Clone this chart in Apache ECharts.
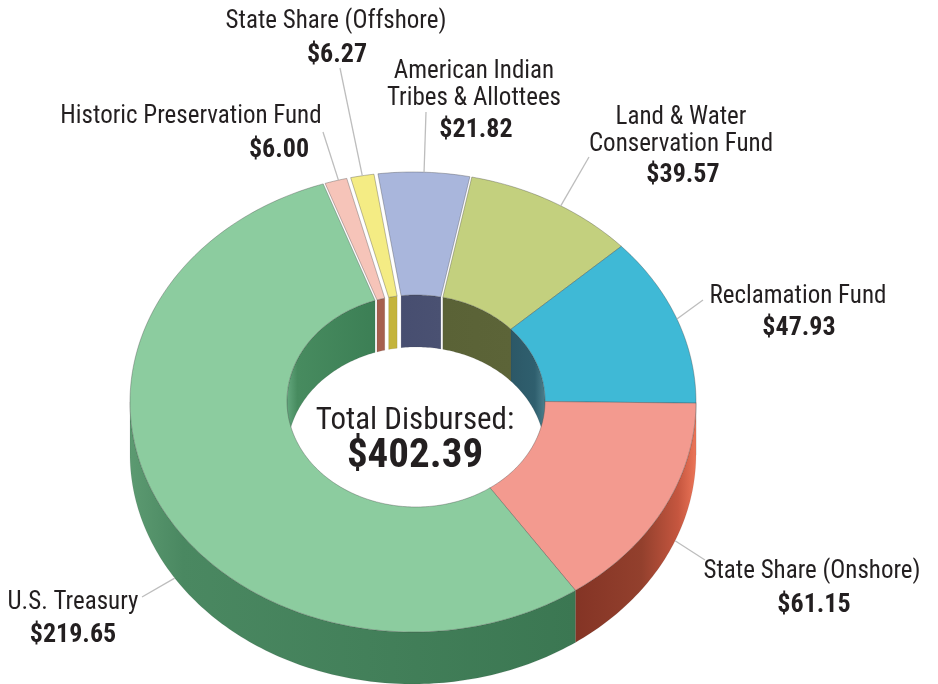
<!DOCTYPE html>
<html><head><meta charset="utf-8">
<script src="https://cdn.jsdelivr.net/npm/echarts@6/dist/echarts.min.js"></script>
<style>html,body{margin:0;padding:0;background:#fff}#c{width:938px;height:684px}</style>
</head><body><div id="c"></div>
<script>
// ---- data ----
const categories = ["Historic Preservation Fund", "State Share (Offshore)", "American Indian\nTribes & Allottees", "Land & Water\nConservation Fund", "Reclamation Fund", "State Share (Onshore)", "U.S. Treasury"];
const values = [6.00, 6.27, 21.82, 39.57, 47.93, 61.15, 219.65];
const centerTitle = "Total Disbursed:";

// ---- styles ----
const topColors = ['#f6c4b9', '#f4ec84', '#a9b6dc', '#c3d07e', '#3fb9d6', '#f39a8f', '#8ccc9f'];
const innerWallStops = [
  [[0, '#a65f4e'], [1, '#a65f4e']],
  [[0, '#c4b43c'], [1, '#c4b43c']],
  [[0, '#474e70'], [1, '#4a5172']],
  [[0, '#5a6236'], [1, '#5c6438']],
  [[0, '#2c5867'], [0.7, '#2f5f6e'], [1, '#4d808d']],
  [[0, '#8a3a2a'], [1, '#8a3a2a']],
  [[0, '#64a87e'], [0.12, '#478b5f'], [1, '#3c7f55']]
];
const outerWallStops = [
  [[0, '#a65f4e'], [1, '#a65f4e']],
  [[0, '#c4b43c'], [1, '#c4b43c']],
  [[0, '#474e70'], [1, '#474e70']],
  [[0, '#5a6236'], [1, '#5a6236']],
  [[0, '#2c5867'], [1, '#2c5867']],
  [[0, '#843425'], [0.55, '#93402d'], [0.85, '#c5563f'], [1, '#ec7558']],
  [[0, '#5c9a71'], [0.12, '#4a8861'], [1, '#3b7752']]
];
const gaps = [2, 2, 2, 0, 0, 0, 0];
const leaderFrac = [0.6, 0.5, 0.5, 0.55, 0.5, 0.4, 0.47];
// label layout: [nameX, nameY, valueX, valueY, lineEndX, lineEndY]
const labelLayout = [
  [191, 117, 279, 150, 323, 132],
  [336, 22, 337, 55, 340, 68],
  [474, 72, 476, 130, 426, 112],
  [681, 118, 683, 175, 589, 157],
  [798, 297, 799, 328, 703, 300],
  [812, 572, 814, 605, 705, 560],
  [73, 603, 73, 635, 142, 597]
];
const GEO = {cx: 413, cy: 402, a: 283, b: 230, icx: 416, icy: 401, ai: 129, bi: 106, d: 52, start: 108.5};
const FONT = "'Liberation Sans Narrow', 'Roboto Condensed', Roboto, sans-serif";
const nameFont = "25px " + FONT;
const valueFont = "bold 26px " + FONT;
const textColor = '#231f20';

// ---- geometry from data ----
const total = values.reduce((s, v) => s + v, 0);
const sliceAngles = [];
(function () {
  let acc = GEO.start;
  values.forEach(v => { const span = v / total * 360; sliceAngles.push([acc, acc - span]); acc -= span; });
})();

function ptRaw(theta, ring, dy) {
  const t = theta * Math.PI / 180;
  if (ring === 'o') return [GEO.cx + GEO.a * Math.cos(t), GEO.cy - GEO.b * Math.sin(t) + (dy || 0)];
  return [GEO.icx + GEO.ai * Math.cos(t), GEO.icy - GEO.bi * Math.sin(t) + (dy || 0)];
}
function arc(api, t1, t2, ring, dy) {
  const n = Math.max(2, Math.ceil(Math.abs(t2 - t1) / 1));
  const pts = [];
  for (let k = 0; k <= n; k++) pts.push(api.coord(ptRaw(t1 + (t2 - t1) * k / n, ring, dy)));
  return pts;
}
function padDeg(i, ring) {
  const r = ring === 'o' ? GEO.a : GEO.ai;
  return gaps[i] / r * 180 / Math.PI;
}
function grad(stops) {
  return new echarts.graphic.LinearGradient(0, 0, 1, 0, stops.map(s => ({offset: s[0], color: s[1]})));
}

function renderWalls(params, api) {
  const i = params.dataIndex;
  const children = [];
  const [s0, e0] = sliceAngles[i];
  let s = s0 - padDeg(i, 'o'), e = e0 + padDeg(i, 'o');
  for (const [lo, hi] of [[-180, 0], [-540, -360], [180, 360]]) {
    const a1 = Math.max(e, lo), a2 = Math.min(s, hi);
    if (a2 > a1) {
      const pts = arc(api, a2, a1, 'o', 0).concat(arc(api, a1, a2, 'o', GEO.d));
      children.push({type: 'polygon', shape: {points: pts}, style: {fill: grad(outerWallStops[i]), stroke: 'rgba(40,40,40,0.15)', lineWidth: 0.5}});
    }
  }
  s = s0 - padDeg(i, 'i'); e = e0 + padDeg(i, 'i');
  for (const [lo, hi] of [[0, 180], [-360, -180]]) {
    const a1 = Math.max(e, lo), a2 = Math.min(s, hi);
    if (a2 > a1) {
      const pts = arc(api, a2, a1, 'i', 0).concat(arc(api, a1, a2, 'i', GEO.d));
      children.push({type: 'polygon', shape: {points: pts}, style: {fill: grad(innerWallStops[i]), stroke: 'rgba(40,40,40,0.2)', lineWidth: 0.5}});
    }
  }
  return {type: 'group', children};
}

function renderTops(params, api) {
  const i = params.dataIndex;
  const [s0, e0] = sliceAngles[i];
  const po = padDeg(i, 'o'), pi = padDeg(i, 'i');
  const pts = arc(api, s0 - po, e0 + po, 'o', 0).concat(arc(api, e0 + pi, s0 - pi, 'i', 0));
  return {type: 'polygon', shape: {points: pts}, style: {fill: topColors[i], stroke: 'rgba(70,70,70,0.45)', lineWidth: 0.8}};
}

function renderLabels(params, api) {
  const i = params.dataIndex;
  const [s0, e0] = sliceAngles[i];
  const th = s0 + (e0 - s0) * leaderFrac[i];
  const front = Math.sin(th * Math.PI / 180) < 0;
  const p0 = api.coord(ptRaw(th, 'o', front ? GEO.d : 0));
  const L = labelLayout[i];
  const p1 = api.coord([L[4], L[5]]);
  const np = api.coord([L[0], L[1]]);
  const vp = api.coord([L[2], L[3]]);
  const lh = 27;
  return {
    type: 'group',
    children: [
      {type: 'line', shape: {x1: p0[0], y1: p0[1], x2: p1[0], y2: p1[1]}, style: {stroke: '#bdbdbd', lineWidth: 1.3}},
      {type: 'text', style: {text: categories[i], x: np[0], y: np[1] - lh / 2, align: 'center', verticalAlign: 'top', font: nameFont, lineHeight: lh, fill: textColor}},
      {type: 'text', style: {text: '$' + values[i].toFixed(2), x: vp[0], y: vp[1], align: 'center', verticalAlign: 'middle', font: valueFont, fill: textColor}}
    ]
  };
}

const seriesData = values.map((v, i) => ({name: categories[i], value: [i, v]}));
const chart = echarts.init(document.getElementById('c'), null, {renderer: 'canvas'});
chart.setOption({
  animation: false,
  backgroundColor: '#ffffff',
  grid: {left: 0, right: 0, top: 0, bottom: 0},
  xAxis: {type: 'value', min: 0, max: 938, show: false},
  yAxis: {type: 'value', min: 0, max: 684, inverse: true, show: false},
  series: [
    {type: 'custom', name: 'walls', z: 1, renderItem: renderWalls, data: seriesData, silent: true},
    {type: 'custom', name: 'tops', z: 2, renderItem: renderTops, data: seriesData},
    {type: 'custom', name: 'labels', z: 3, renderItem: renderLabels, data: seriesData, silent: true}
  ],
  graphic: [
    {type: 'text', z: 10, x: 415, y: 421, style: {text: centerTitle, align: 'center', verticalAlign: 'middle', font: "31px " + FONT, fill: textColor}},
    {type: 'text', z: 10, x: 415, y: 457, style: {text: '$' + total.toFixed(2), align: 'center', verticalAlign: 'middle', font: "bold 41px " + FONT, fill: textColor}}
  ]
});
</script></body></html>
